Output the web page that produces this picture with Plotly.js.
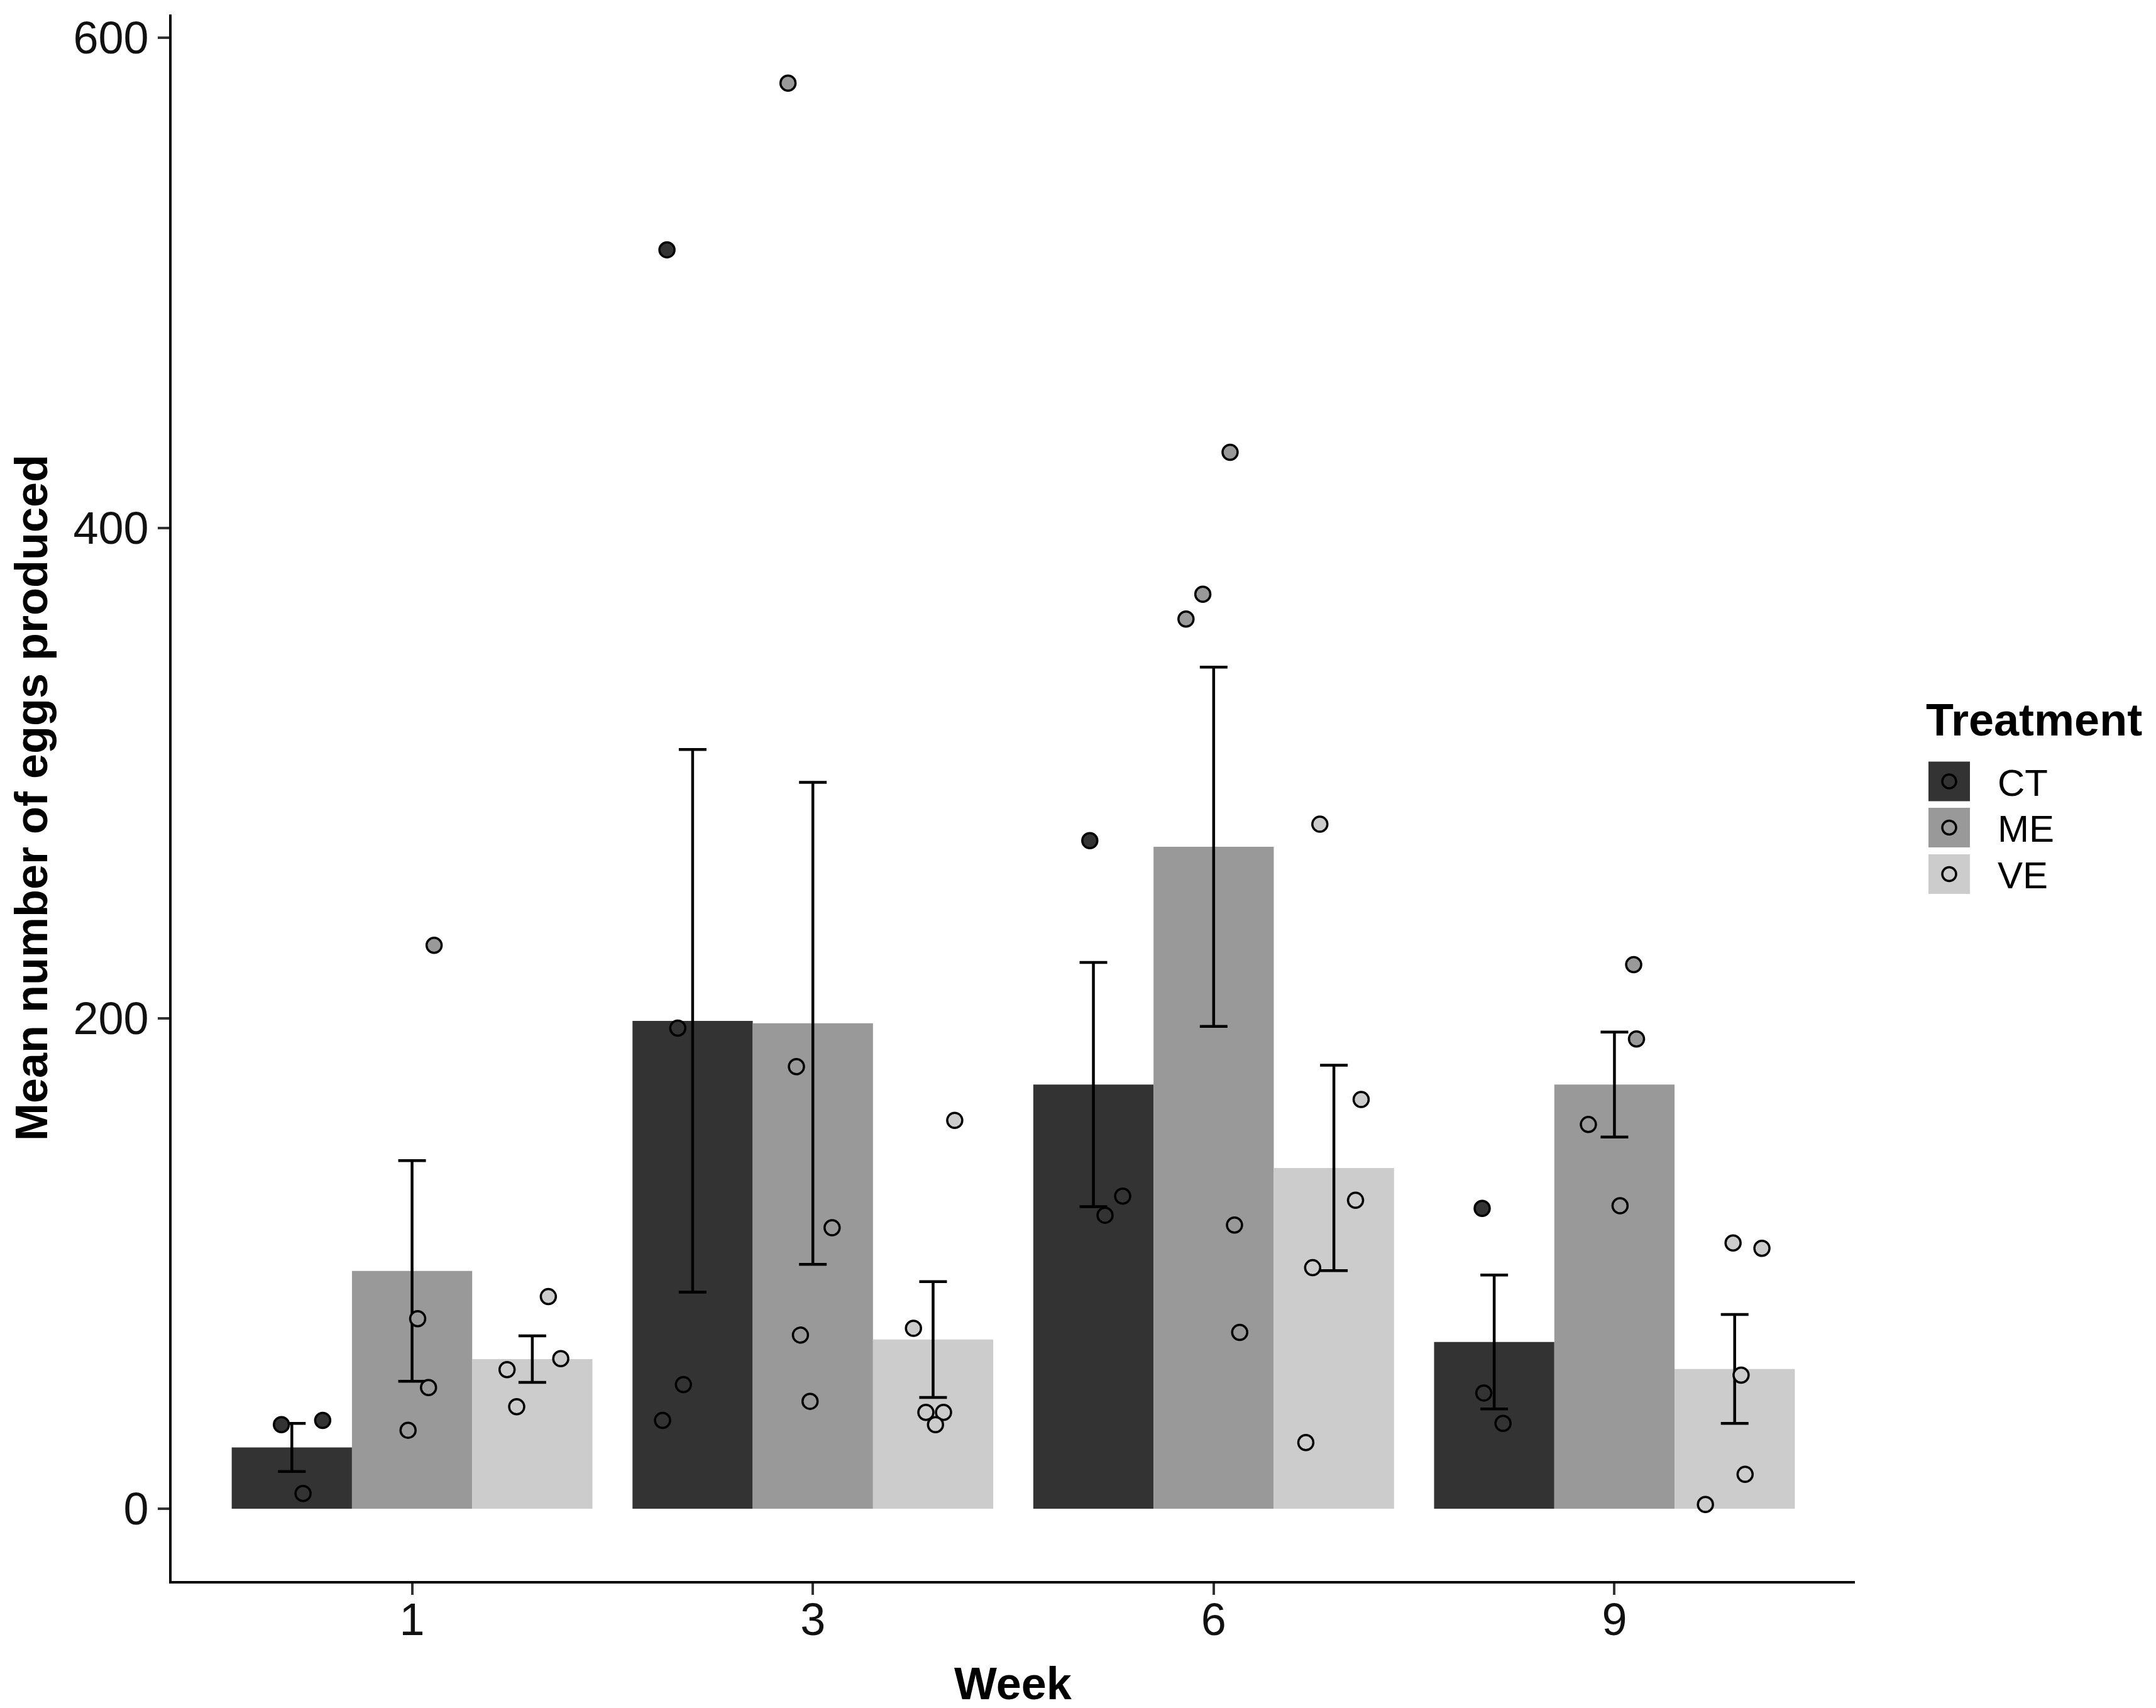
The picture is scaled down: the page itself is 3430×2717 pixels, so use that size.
<!DOCTYPE html>
<html>
<head>
<meta charset="utf-8">
<script src="https://cdn.plot.ly/plotly-3.0.1.min.js"></script>
<style>
  html, body { margin: 0; padding: 0; background: #ffffff; }
  #chart { width: 3430px; height: 2717px; }
</style>
</head>
<body>
<div id="chart"></div>
<script>
// ---------------- data ----------------
const weeks = ['1', '3', '6', '9'];
const treatments = ['CT', 'ME', 'VE'];

// bar means (mean number of eggs produced)
const meanCT = [25, 199, 173, 68];
const meanME = [97, 198, 270, 173];
const meanVE = [61, 69, 139, 57];

// standard errors (error bar half lengths)
const seCT = [9.8, 110.7, 49.8, 27.3];
const seME = [45, 98.3, 73.3, 21.4];
const seVE = [9.5, 23.6, 41.9, 22.2];

// individual observations: week index, value, horizontal jitter
const ptsCTweek = [0, 0, 0, 1, 1, 1, 1, 2, 2, 2, 3, 3, 3];
const ptsCTval  = [34.3, 36, 6.2, 513.5, 196, 50.6, 36, 272.5, 127.5, 119.7, 122.5, 47.2, 34.8];
const ptsCTjit  = [-0.026, 0.077, 0.028, -0.064, -0.037, -0.023, -0.075, -0.009, 0.073, 0.029, -0.030, -0.026, 0.022];

const ptsMEweek = [0, 0, 0, 0, 1, 1, 1, 1, 1, 2, 2, 2, 2, 2, 3, 3, 3, 3];
const ptsMEval  = [229.8, 77.5, 49.4, 32, 581.5, 180.3, 114.6, 70.8, 43.8, 430.9, 373, 362.9, 115.7, 71.9, 221.9, 191.6, 156.7, 123.6];
const ptsMEjit  = [0.055, 0.014, 0.041, -0.010, -0.062, -0.041, 0.048, -0.031, -0.007, 0.041, -0.027, -0.069, 0.052, 0.065, 0.048, 0.055, -0.065, 0.014];

const ptsVEweek = [0, 0, 0, 0, 1, 1, 1, 1, 1, 2, 2, 2, 2, 2, 3, 3, 3, 3, 3];
const ptsVEval  = [86.5, 56.7, 61.2, 41.6, 158.4, 73.6, 39.3, 39.3, 34.3, 279.2, 166.9, 125.8, 98.3, 27, 108.4, 106.2, 54.5, 14, 1.7];
const ptsVEjit  = [0.040, -0.063, 0.071, -0.039, 0.054, -0.049, -0.018, 0.026, 0.006, -0.035, 0.068, 0.054, -0.053, -0.070, -0.004, 0.068, 0.016, 0.026, -0.073];

// ---------------- styling ----------------
const fills = { CT: '#333333', ME: '#999999', VE: '#cccccc' };
const FONT = 'Liberation Sans, Arial, Helvetica, sans-serif';
const dodge = 0.3; // bar width within a dodge of 0.9

const means = { CT: meanCT, ME: meanME, VE: meanVE };
const ses = { CT: seCT, ME: seME, VE: seVE };
const pts = {
  CT: [ptsCTweek, ptsCTval, ptsCTjit],
  ME: [ptsMEweek, ptsMEval, ptsMEjit],
  VE: [ptsVEweek, ptsVEval, ptsVEjit]
};

const weekIdx = weeks.map((w, i) => i);
const traces = [];

treatments.forEach((t) => {
  traces.push({
    type: 'bar',
    name: t,
    x: weekIdx,
    y: means[t],
    marker: { color: fills[t], line: { width: 0 } },
    error_y: { type: 'data', array: ses[t], visible: true, color: '#000000', thickness: 4.5, width: 22 },
    showlegend: false,
    hoverinfo: 'skip'
  });
});

treatments.forEach((t, ti) => {
  const [wk, val, jit] = pts[t];
  traces.push({
    type: 'scatter',
    mode: 'markers',
    name: t + ' obs',
    x: wk.map((w, i) => w + (ti - 1) * dodge + jit[i]),
    y: val,
    marker: { size: 24, color: fills[t], line: { color: '#000000', width: 3.5 } },
    showlegend: false,
    cliponaxis: false,
    hoverinfo: 'skip'
  });
});

// ---------------- layout ----------------
const W = 3430, H = 2717;
const mL = 273, mR = 479, mT = 23, mB = 202;
const pw = W - mL - mR, ph = H - mT - mB;
const px2x = (px) => (px - mL) / pw;
const py2y = (py) => (H - mB - py) / ph;

const shapes = [];
const annotations = [];

// axis titles
annotations.push({
  text: '<b>Mean number of eggs produced</b>',
  xref: 'paper', yref: 'paper', x: px2x(50), y: 0.5,
  xanchor: 'center', yanchor: 'middle', textangle: -90, showarrow: false,
  font: { family: FONT, size: 72, color: '#000000' }
});
annotations.push({
  text: '<b>Week</b>',
  xref: 'paper', yref: 'paper', x: 0.5, y: py2y(2678),
  xanchor: 'center', yanchor: 'middle', showarrow: false,
  font: { family: FONT, size: 72, color: '#000000' }
});

// legend (drawn manually to match large ggplot keys)
annotations.push({
  text: '<b>Treatment</b>',
  xref: 'paper', yref: 'paper', x: px2x(3062), y: py2y(1145),
  xanchor: 'left', yanchor: 'middle', showarrow: false,
  font: { family: FONT, size: 72, color: '#000000' }
});
const keyCenters = [1243, 1316.5, 1390.5];
treatments.forEach((t, i) => {
  const cy = keyCenters[i];
  shapes.push({
    type: 'rect', xref: 'paper', yref: 'paper',
    x0: px2x(3068), x1: px2x(3134), y0: py2y(cy + 31.5), y1: py2y(cy - 31.5),
    fillcolor: fills[t], line: { width: 0 }
  });
  shapes.push({
    type: 'circle', xref: 'paper', yref: 'paper',
    x0: px2x(3101 - 11), x1: px2x(3101 + 11), y0: py2y(cy + 11), y1: py2y(cy - 11),
    fillcolor: fills[t], line: { color: '#000000', width: 3.5 }
  });
  annotations.push({
    text: t,
    xref: 'paper', yref: 'paper', x: px2x(3176), y: py2y(cy + 2),
    xanchor: 'left', yanchor: 'middle', showarrow: false,
    font: { family: FONT, size: 60, color: '#000000' }
  });
});

const axisCommon = {
  showgrid: false,
  zeroline: false,
  showline: true,
  linecolor: '#000000',
  linewidth: 4,
  ticks: 'outside',
  ticklen: 18,
  tickwidth: 4,
  tickcolor: '#333333',
  tickfont: { family: FONT, size: 72, color: '#111111' },
  fixedrange: true
};

const layout = {
  width: W,
  height: H,
  margin: { l: mL, r: mR, t: mT, b: mB, pad: 0 },
  paper_bgcolor: '#ffffff',
  plot_bgcolor: '#ffffff',
  barmode: 'group',
  bargap: 0.1,
  bargroupgap: 0,
  showlegend: false,
  xaxis: Object.assign({}, axisCommon, {
    range: [-0.6, 3.6],
    tickmode: 'array',
    tickvals: weekIdx,
    ticktext: weeks,
    ticklabelstandoff: -22
  }),
  yaxis: Object.assign({}, axisCommon, {
    range: [-29.5, 609.5],
    tickmode: 'array',
    tickvals: [0, 200, 400, 600],
    ticktext: ['0', '200', '400', '600']
  }),
  shapes: shapes,
  annotations: annotations
};

Plotly.newPlot('chart', traces, layout, { staticPlot: true, displayModeBar: false });
</script>
</body>
</html>
